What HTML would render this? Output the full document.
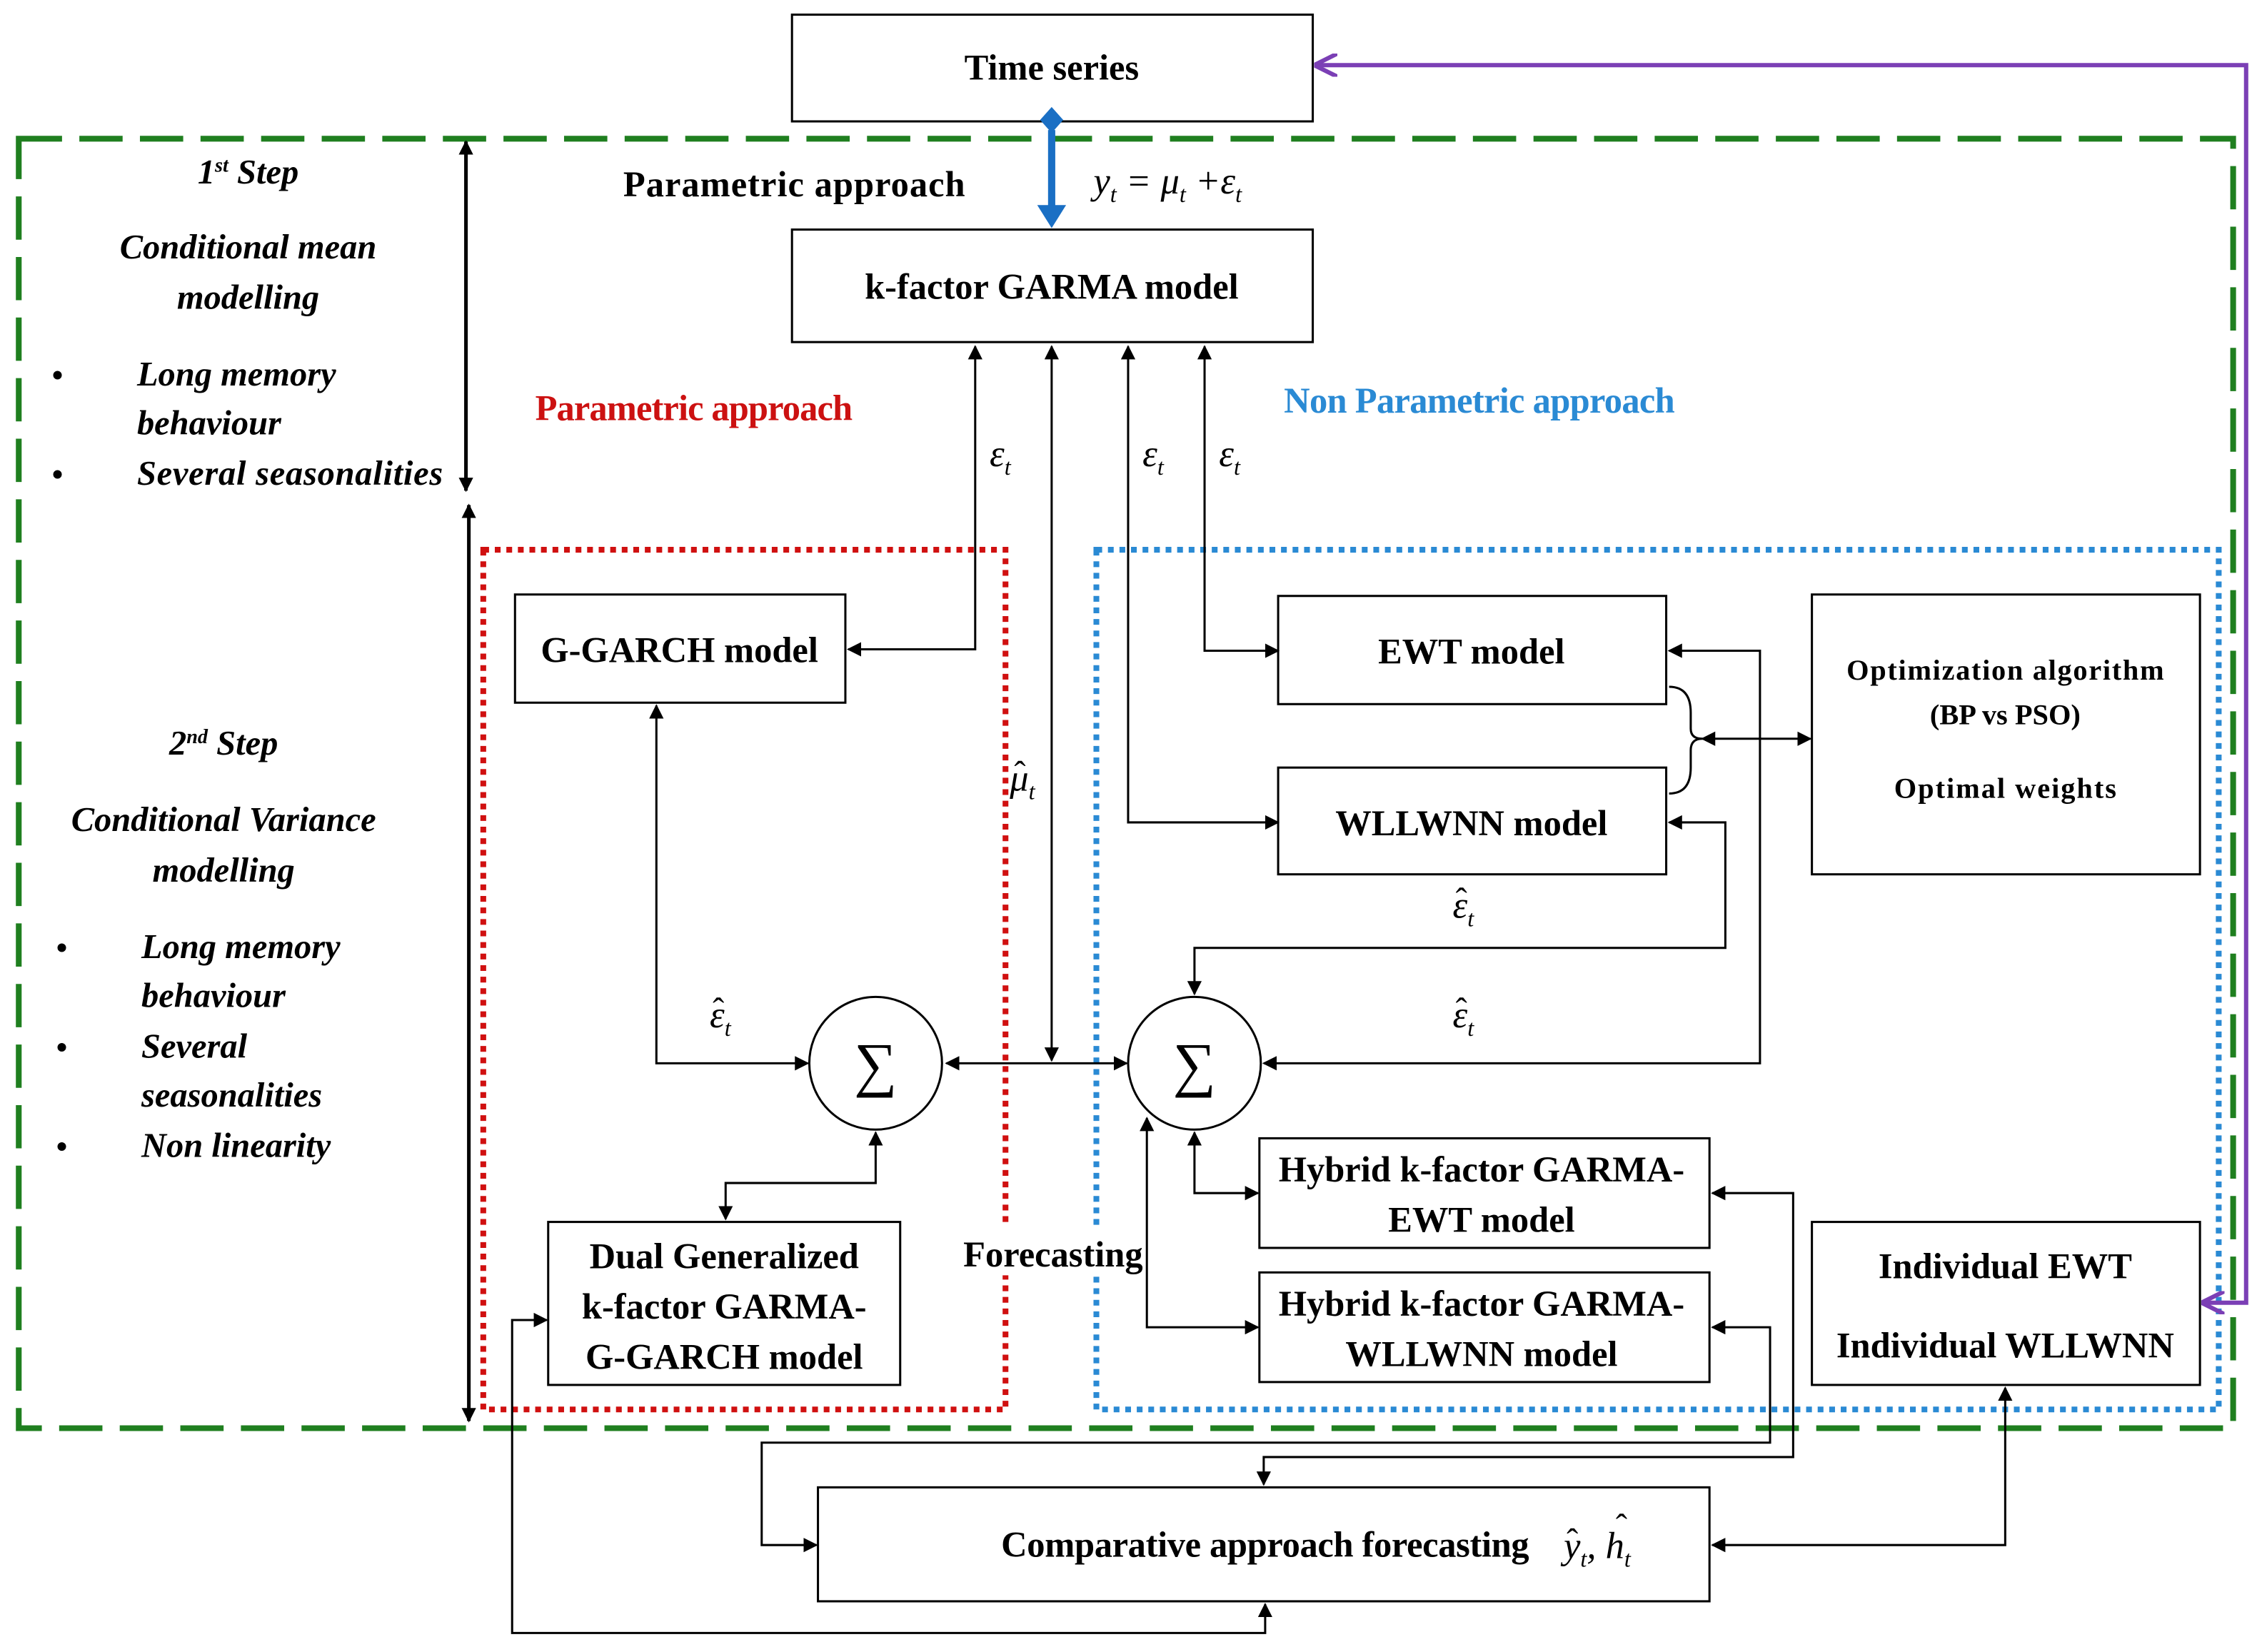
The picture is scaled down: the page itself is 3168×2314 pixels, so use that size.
<!DOCTYPE html>
<html><head><meta charset="utf-8"><style>
html,body{margin:0;padding:0;background:#fff;}
svg{display:block;}
text{font-family:"Liberation Serif",serif;font-weight:bold;fill:#000;}
.b{font-size:25px;}
.i{font-style:italic;font-size:24px;}
.m{font-style:italic;font-weight:normal;font-size:26px;}
.h{font-weight:normal;font-size:24px;}
</style></head><body>
<svg width="3168" height="2314" viewBox="0 0 1568 1145" xmlns="http://www.w3.org/2000/svg">
<defs>
<marker id="a" markerWidth="10" markerHeight="10" refX="9" refY="5" orient="auto" markerUnits="userSpaceOnUse"><path d="M0,0 L10,5 L0,10 z" fill="#000"/></marker>
<marker id="as" markerWidth="10" markerHeight="10" refX="1" refY="5" orient="auto" markerUnits="userSpaceOnUse"><path d="M10,0 L0,5 L10,10 z" fill="#000"/></marker>
<marker id="p" markerWidth="16" markerHeight="16" refX="1" refY="8" orient="auto" markerUnits="userSpaceOnUse"><path d="M16,0 L0,8 L16,16" fill="none" stroke="#7b3fb5" stroke-width="3"/></marker>
<marker id="pe" markerWidth="16" markerHeight="16" refX="15" refY="8" orient="auto" markerUnits="userSpaceOnUse"><path d="M0,0 L16,8 L0,16" fill="none" stroke="#7b3fb5" stroke-width="3"/></marker>
</defs>
<rect width="1568" height="1145" fill="#fff"/>
<rect x="13" y="96" width="1535" height="894" fill="none" stroke="#1f7f1f" stroke-width="4" stroke-dasharray="30,12"/>
<rect x="335" y="381" width="362" height="596" fill="none" stroke="#d01010" stroke-width="4" stroke-dasharray="4,4"/>
<rect x="760" y="381" width="778" height="596" fill="none" stroke="#2a8ad4" stroke-width="4" stroke-dasharray="4,4"/>
<rect x="668" y="850" width="124" height="34" fill="#fff"/>
<g fill="#fff" stroke="#000" stroke-width="1.5">
<rect x="549" y="10" width="361" height="74"/>
<rect x="549" y="159" width="361" height="78"/>
<rect x="357" y="412" width="229" height="75"/>
<rect x="886" y="413" width="269" height="75"/>
<rect x="886" y="532" width="269" height="74"/>
<rect x="1256" y="412" width="269" height="194"/>
<rect x="380" y="847" width="244" height="113"/>
<rect x="873" y="789" width="312" height="76"/>
<rect x="873" y="882" width="312" height="76"/>
<rect x="1256" y="847" width="269" height="113"/>
<rect x="567" y="1031" width="618" height="79"/>
<circle cx="607" cy="737" r="46"/>
<circle cx="828" cy="737" r="46"/>
</g>
<text x="607" y="752" text-anchor="middle" style="font-size:42px;font-weight:normal">∑</text>
<text x="828" y="752" text-anchor="middle" style="font-size:42px;font-weight:normal">∑</text>
<line x1="729" y1="90" x2="729" y2="145" stroke="#1a6fc4" stroke-width="5"/>
<path d="M719,142 L739,142 L729,158 z" fill="#1a6fc4"/>
<path d="M729,74 L737,83 L729,92 L721,83 z" fill="#1a6fc4"/>
<polyline points="912,45 1557,45 1557,903 1527,903" fill="none" stroke="#7b3fb5" stroke-width="3" marker-start="url(#p)" marker-end="url(#pe)"/>
<g stroke="#000" stroke-width="2.5" fill="none">
<line x1="323" y1="98" x2="323" y2="340" marker-start="url(#as)" marker-end="url(#a)"/>
<line x1="325" y1="350" x2="325" y2="985" marker-start="url(#as)" marker-end="url(#a)"/>
</g>
<g stroke="#000" stroke-width="1.5" fill="none">
<polyline points="588,450 676,450 676,240" marker-start="url(#as)" marker-end="url(#a)"/>
<line x1="729" y1="240" x2="729" y2="735" marker-start="url(#as)" marker-end="url(#a)"/>
<polyline points="782,240 782,570 886,570" marker-start="url(#as)" marker-end="url(#a)"/>
<polyline points="835,240 835,451 886,451" marker-start="url(#as)" marker-end="url(#a)"/>
<polyline points="455,489 455,737 560,737" marker-start="url(#as)" marker-end="url(#a)"/>
<line x1="656" y1="737" x2="781" y2="737" marker-start="url(#as)" marker-end="url(#a)"/>
<polyline points="607,785 607,820 503,820 503,845" marker-start="url(#as)" marker-end="url(#a)"/>
<polyline points="1157,451 1220,451 1220,737 876,737" marker-start="url(#as)" marker-end="url(#a)"/>
<polyline points="1157,570 1196,570 1196,657 828,657 828,689" marker-start="url(#as)" marker-end="url(#a)"/>
<path d="M1157,476 Q1172,476 1172,494 L1172,505 Q1172,512 1180,512 Q1172,512 1172,520 L1172,532 Q1172,550 1157,550"/>
<line x1="1180" y1="512" x2="1255" y2="512" marker-start="url(#as)" marker-end="url(#a)"/>
<polyline points="828,785 828,827 872,827" marker-start="url(#as)" marker-end="url(#a)"/>
<polyline points="795,775 795,920 872,920" marker-start="url(#as)" marker-end="url(#a)"/>
<polyline points="1187,827 1243,827 1243,1010 876,1010 876,1029" marker-start="url(#as)" marker-end="url(#a)"/>
<polyline points="1187,920 1227,920 1227,1000 528,1000 528,1071 566,1071" marker-start="url(#as)" marker-end="url(#a)"/>
<polyline points="1390,962 1390,1071 1187,1071" marker-start="url(#as)" marker-end="url(#a)"/>
<polyline points="379,915 355,915 355,1132 877,1132 877,1112" marker-start="url(#as)" marker-end="url(#a)"/>
</g>
<g text-anchor="middle">
<text x="729" y="55" class="b">Time series</text>
<text x="729" y="207" class="b">k-factor GARMA model</text>
<text x="471" y="459" class="b">G-GARCH model</text>
<text x="1020" y="460" class="b">EWT model</text>
<text x="1020" y="579" class="b">WLLWNN model</text>
<text x="1390" y="471" style="font-size:20px" textLength="220">Optimization  algorithm</text>
<text x="1390" y="502" style="font-size:20px">(BP vs PSO)</text>
<text x="1390" y="553" style="font-size:20px" textLength="154">Optimal  weights</text>
<text x="502" y="879" class="b">Dual Generalized</text>
<text x="502" y="914" class="b">k-factor GARMA-</text>
<text x="502" y="949" class="b">G-GARCH model</text>
<text x="1027" y="819" class="b">Hybrid k-factor GARMA-</text>
<text x="1027" y="854" class="b">EWT model</text>
<text x="1027" y="912" class="b">Hybrid k-factor  GARMA-</text>
<text x="1027" y="947" class="b">WLLWNN model</text>
<text x="1390" y="886" class="b">Individual EWT</text>
<text x="1390" y="941" class="b">Individual WLLWNN</text>
<text x="730" y="878" class="b">Forecasting</text>
<text x="172" y="127" class="i">1<tspan style="font-size:14px" dy="-8">st</tspan><tspan dy="8"> Step</tspan></text>
<text x="172" y="179" class="i">Conditional mean</text>
<text x="172" y="214" class="i">modelling</text>
<text x="155" y="523" class="i">2<tspan style="font-size:14px" dy="-8">nd</tspan><tspan dy="8"> Step</tspan></text>
<text x="155" y="576" class="i">Conditional Variance</text>
<text x="155" y="611" class="i">modelling</text>
</g>
<text x="432" y="136" class="b" textLength="237">Parametric  approach</text>
<text x="758" y="134" class="m">y<tspan font-size="16" dy="6">t</tspan><tspan dy="-6"> = μ</tspan><tspan font-size="16" dy="6">t</tspan><tspan dy="-6"> +ε</tspan><tspan font-size="16" dy="6">t</tspan></text>
<text x="371" y="291" class="b" style="fill:#cc1111" textLength="220">Parametric approach</text>
<text x="890" y="286" class="b" style="fill:#2a8ad4" textLength="271">Non Parametric approach</text>
<text x="95" y="267" class="i">Long memory</text>
<text x="95" y="301" class="i">behaviour</text>
<text x="95" y="336" class="i" textLength="212">Several seasonalities</text>
<text x="98" y="664" class="i">Long memory</text>
<text x="98" y="698" class="i">behaviour</text>
<text x="98" y="733" class="i">Several</text>
<text x="98" y="767" class="i">seasonalities</text>
<text x="98" y="802" class="i">Non linearity</text>
<g style="font-size:22px">
<text x="36" y="267">•</text><text x="36" y="336">•</text>
<text x="39" y="664">•</text><text x="39" y="733">•</text><text x="39" y="802">•</text>
</g>
<text x="686" y="323" class="m">ε<tspan font-size="16" dy="6">t</tspan></text>
<text x="792" y="323" class="m">ε<tspan font-size="16" dy="6">t</tspan></text>
<text x="845" y="323" class="m">ε<tspan font-size="16" dy="6">t</tspan></text>
<text x="700" y="548" class="m">μ<tspan font-size="16" dy="6">t</tspan></text>
<text x="703" y="544" class="h">ˆ</text>
<text x="492" y="712" class="m">ε<tspan font-size="16" dy="6">t</tspan></text>
<text x="494" y="708" class="h">ˆ</text>
<text x="1007" y="636" class="m">ε<tspan font-size="16" dy="6">t</tspan></text>
<text x="1009" y="632" class="h">ˆ</text>
<text x="1007" y="712" class="m">ε<tspan font-size="16" dy="6">t</tspan></text>
<text x="1009" y="708" class="h">ˆ</text>
<text x="694" y="1079" class="b" textLength="366">Comparative approach forecasting</text>
<text x="1084" y="1080" class="m">y<tspan font-size="16" dy="6">t</tspan><tspan dy="-6">, h</tspan><tspan font-size="16" dy="6">t</tspan></text>
<text x="1086" y="1076" class="h">ˆ</text>
<text x="1120" y="1066" class="h">ˆ</text>
</svg>
</body></html>
